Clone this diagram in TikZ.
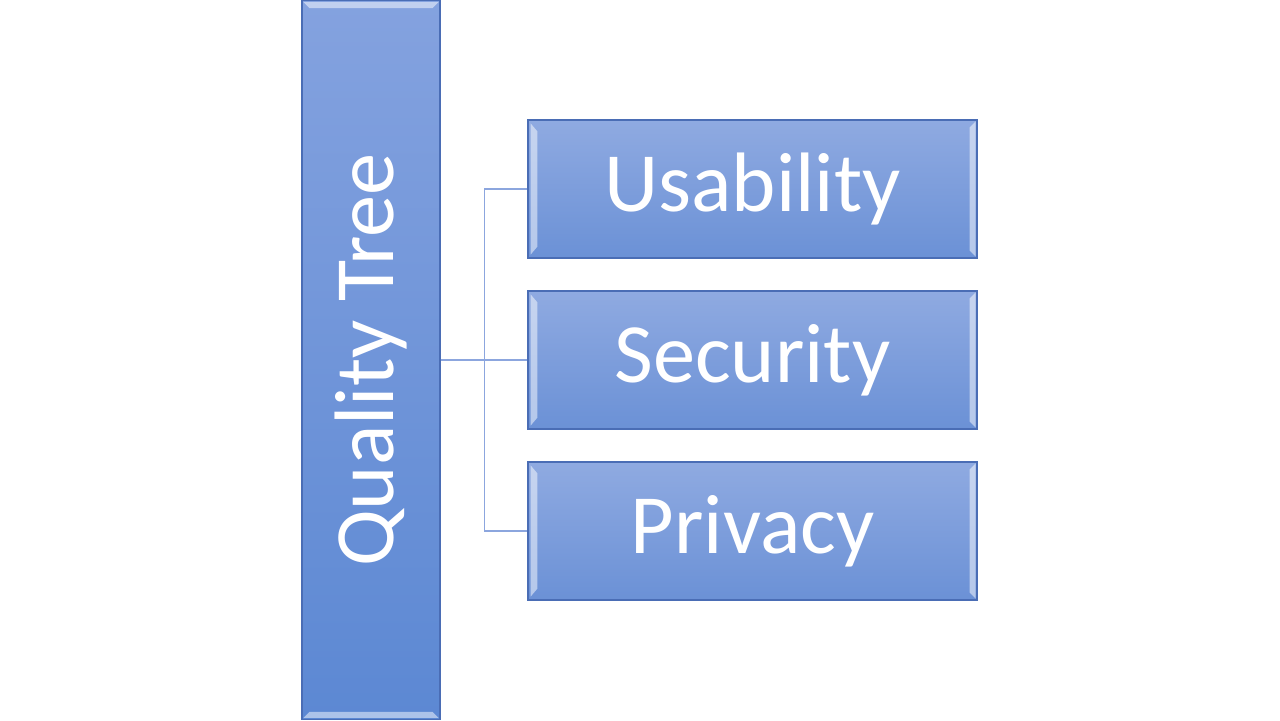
\documentclass[tikz,border=0pt]{standalone}
\usepackage{fontspec}
\setmainfont{Carlito}
\usetikzlibrary{positioning}
\definecolor{boxtop}{HTML}{8FAAE1}
\definecolor{boxbot}{HTML}{6B91D6}
\definecolor{roottop}{HTML}{84A2DF}
\definecolor{rootbot}{HTML}{5C88D3}
\definecolor{boxline}{HTML}{4A6DB5}
\definecolor{linkcol}{HTML}{8CA6DE}
\tikzset{
  quality/.style={draw=boxline, line width=0.8pt, top color=boxtop, bottom color=boxbot,
    text=white, font=\fontsize{60}{60}\selectfont, inner sep=0pt},
  attr/.style={quality, minimum width=11.225cm, minimum height=3.45cm},
  link/.style={draw=linkcol, line width=0.9pt},
  glint/.style={fill=white, fill opacity=0.5, draw=none}
}

\begin{document}
\begin{tikzpicture}
\useasboundingbox (0,0) rectangle (32,18);
% root box, text turned upwards
\node[quality, top color=roottop, bottom color=rootbot, minimum width=3.45cm, minimum height=17.97cm] (root) at (9.275,9) {};
\node[rotate=90, text=white, font=\fontsize{60}{60}\selectfont] (roottext) at (root.center) {Quality Tree};
\fill[glint] ([shift={(0.05,-0.05)}]root.north west) -- ([shift={(-0.05,-0.05)}]root.north east)
  -- ([shift={(-0.2,-0.2)}]root.north east) -- ([shift={(0.2,-0.2)}]root.north west) -- cycle;
\fill[glint] ([shift={(0.05,0.05)}]root.south west) -- ([shift={(-0.05,0.05)}]root.south east)
  -- ([shift={(-0.2,0.2)}]root.south east) -- ([shift={(0.2,0.2)}]root.south west) -- cycle;

% attributes
\node[attr] (usab) at (18.8125,13.275) {Usability};
\node[attr] (secu) at (18.8125,9) {Security};
\node[attr] (priv) at (18.8125,4.725) {Privacy};

% bevel highlights
\foreach \n in {usab,secu,priv} {
  \fill[glint] ([shift={(0.08,-0.1)}]\n.north west) -- ([shift={(0.25,-0.3)}]\n.north west)
    -- ([shift={(0.25,0.3)}]\n.south west) -- ([shift={(0.08,0.1)}]\n.south west) -- cycle;
  \fill[glint] ([shift={(-0.05,-0.05)}]\n.north east) -- ([shift={(-0.2,-0.2)}]\n.north east)
    -- ([shift={(-0.2,0.2)}]\n.south east) -- ([shift={(-0.05,0.05)}]\n.south east) -- cycle;
}

% connectors
\coordinate (fork) at ([xshift=1.1cm]root.east);
\draw[link] (root.east) -- (secu.west);
\draw[link] (fork) |- (usab.west);
\draw[link] (fork) |- (priv.west);
\end{tikzpicture}
\end{document}
